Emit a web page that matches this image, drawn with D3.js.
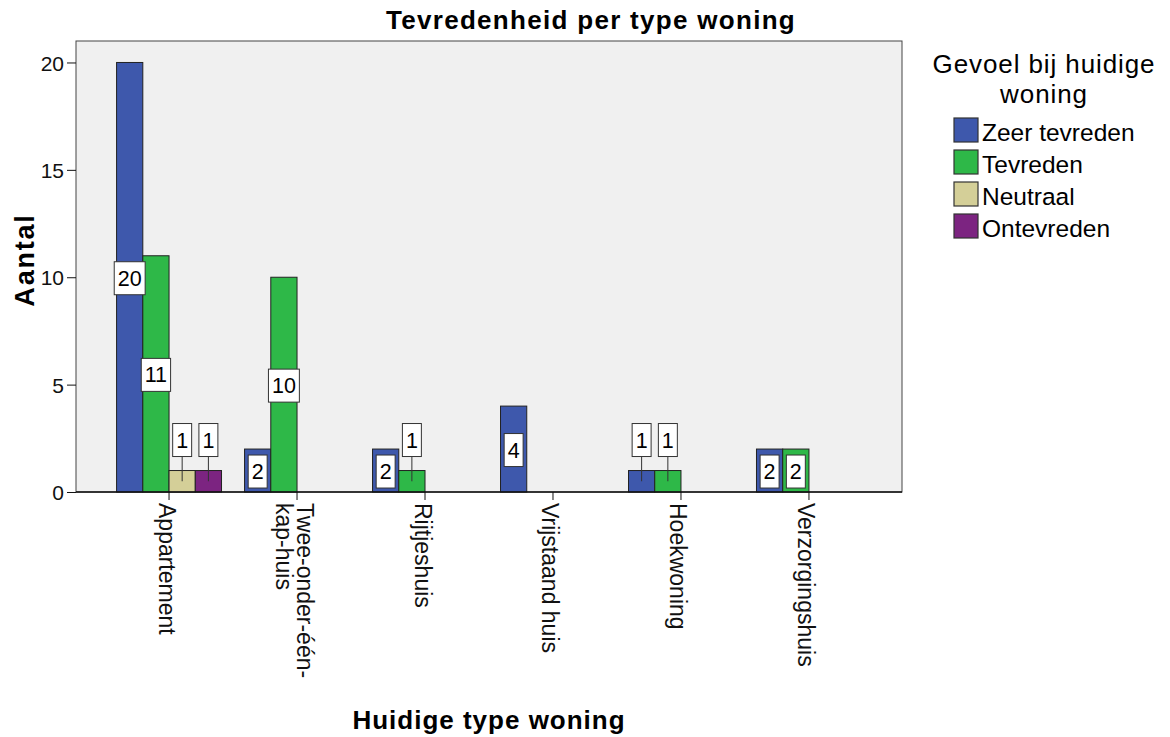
<!DOCTYPE html>
<html>
<head>
<meta charset="utf-8">
<script src="https://cdn.jsdelivr.net/npm/d3@7"></script>
<style>
  html, body { margin: 0; padding: 0; background: #fff; }
  svg { display: block; font-family: 'Liberation Sans', Arial, sans-serif; }
</style>
</head>
<body>
<div id="chart"></div>
<script>
const categories = ['Appartement', 'Twee-onder-één-kap-huis', 'Rijtjeshuis', 'Vrijstaand huis', 'Hoekwoning', 'Verzorgingshuis'];
const seriesNames = ['Zeer tevreden', 'Tevreden', 'Neutraal', 'Ontevreden'];
const zeerTevreden = [20, 2, 2, 4, 1, 2];
const tevreden = [11, 10, 1, 0, 1, 2];
const neutraal = [1, 0, 0, 0, 0, 0];
const ontevreden = [1, 0, 0, 0, 0, 0];
const yTicks = [0, 5, 10, 15, 20];
const COLORS = ['#3e58ac', '#2eb848', '#d4cf98', '#7c2481'];

const width = 1170;
const height = 737;
const plot = {left: 76, right: 902, top: 41, bottom: 492};

// one row per bar
const values = [zeerTevreden, tevreden, neutraal, ontevreden];
const bars = categories.flatMap((c, i) =>
  seriesNames.map((s, j) => ({cat: c, series: s, value: values[j][i], color: COLORS[j]})));

const svg = d3.select('#chart')
  .append('svg')
    .attr('width', width)
    .attr('height', height);

const x0 = d3.scaleBand()
  .domain(categories)
  .range([plot.left, plot.right])
  .paddingInner(0.18)
  .paddingOuter(0.317);
const x1 = d3.scaleBand()
  .domain(seriesNames)
  .range([0, x0.bandwidth()]);
const y = d3.scaleLinear()
  .domain([0, 21])
  .range([plot.bottom, plot.top]);

// plot background
svg.append('rect')
  .attr('x', plot.left)
  .attr('y', plot.top)
  .attr('width', plot.right - plot.left)
  .attr('height', plot.bottom - plot.top)
  .attr('fill', '#f0f0f0')
  .attr('stroke', '#444')
  .attr('stroke-width', 1);

// bars
svg.append('g')
  .selectAll('rect')
  .data(bars)
  .enter().append('rect')
    .attr('x', d => x0(d.cat) + x1(d.series))
    .attr('y', d => y(d.value))
    .attr('width', x1.bandwidth())
    .attr('height', d => y(0) - y(d.value))
    .attr('fill', d => d.color)
    .attr('stroke', '#222')
    .attr('stroke-width', 1);

// baseline
svg.append('line')
  .attr('x1', plot.left).attr('x2', plot.right)
  .attr('y1', y(0)).attr('y2', y(0))
  .attr('stroke', '#111')
  .attr('stroke-width', 1.5);

// value labels
const boxH = 33;
const labels = svg.append('g');
bars.filter(d => d.value > 0).forEach(d => {
  const cx = x0(d.cat) + x1(d.series) + x1.bandwidth() / 2;
  const midY = (y(d.value) + y(0)) / 2;
  const inside = (y(0) - y(d.value)) > boxH + 4;
  const g = labels.append('g');
  const t = g.append('text')
    .attr('font-size', 21.5)
    .attr('text-anchor', 'middle')
    .text(d.value);
  const tw = t.node().getComputedTextLength();
  const boxW = tw + 7;
  const boxY = inside ? midY - boxH / 2 + 1 : y(d.value) - 14 - boxH;
  if (!inside) {
    g.insert('line', 'text')
      .attr('x1', cx).attr('x2', cx)
      .attr('y1', boxY + boxH).attr('y2', midY)
      .attr('stroke', '#333')
      .attr('stroke-width', 1);
  }
  g.insert('rect', 'text')
    .attr('x', cx - boxW / 2)
    .attr('y', boxY)
    .attr('width', boxW)
    .attr('height', boxH)
    .attr('fill', '#fff')
    .attr('stroke', '#333')
    .attr('stroke-width', 1);
  t.attr('x', cx).attr('y', boxY + boxH / 2 + 7.5);
});

// y axis
const yAxis = svg.append('g')
  .attr('transform', `translate(${plot.left},0)`)
  .call(d3.axisLeft(y).tickValues(yTicks).tickSize(9).tickPadding(3));
yAxis.select('.domain').remove();
yAxis.selectAll('.tick line').attr('stroke', '#111');
yAxis.selectAll('.tick text')
  .attr('font-size', 21)
  .attr('font-family', 'Liberation Sans, Arial, sans-serif')
  .attr('fill', '#111')
  .attr('dy', '0.36em');

// x axis
const xAxis = svg.append('g')
  .attr('transform', `translate(0,${plot.bottom})`)
  .call(d3.axisBottom(x0).tickSize(8).tickFormat(''));
xAxis.select('.domain').remove();
xAxis.selectAll('.tick line').attr('stroke', '#111');

// rotated category labels, wrapped after hyphens
const maxLen = 182;
const lineH = 21;
categories.forEach(c => {
  const cx = x0(c) + x0.bandwidth() / 2;
  const g = svg.append('g')
    .attr('transform', `translate(${cx},${plot.bottom + 11}) rotate(90)`);
  const probe = g.append('text').attr('font-size', 23);
  const parts = c.split(/(?<=-)/);
  const lines = [];
  let cur = '';
  parts.forEach(p => {
    probe.text(cur + p);
    if (cur && probe.node().getComputedTextLength() > maxLen) {
      lines.push(cur);
      cur = p;
    } else {
      cur += p;
    }
  });
  lines.push(cur);
  probe.remove();
  lines.forEach((l, i) => {
    const off = -10.5 + ((lines.length - 1) / 2 - i) * lineH;
    g.append('text')
      .attr('font-size', 23)
      .attr('fill', '#111')
      .attr('x', 0)
      .attr('y', -off)
      .text(l);
  });
});

// titles
svg.append('text')
  .attr('x', 591)
  .attr('y', 29)
  .attr('text-anchor', 'middle')
  .attr('font-size', 26)
  .attr('font-weight', 'bold')
  .attr('letter-spacing', 1.3)
  .text('Tevredenheid per type woning');

svg.append('text')
  .attr('x', (plot.left + plot.right) / 2)
  .attr('y', 729)
  .attr('text-anchor', 'middle')
  .attr('font-size', 26)
  .attr('font-weight', 'bold')
  .attr('letter-spacing', 1.0)
  .text('Huidige type woning');

svg.append('text')
  .attr('transform', 'translate(34,260) rotate(-90)')
  .attr('text-anchor', 'middle')
  .attr('font-size', 27)
  .attr('font-weight', 'bold')
  .attr('letter-spacing', 1.8)
  .text('Aantal');

// legend
const legend = svg.append('g');
['Gevoel bij huidige', 'woning'].forEach((l, i) => {
  legend.append('text')
    .attr('x', 1044)
    .attr('y', 73 + i * 30)
    .attr('text-anchor', 'middle')
    .attr('font-size', 26)
    .attr('letter-spacing', 0.9)
    .text(l);
});
seriesNames.forEach((s, i) => {
  const top = 118 + i * 32;
  legend.append('rect')
    .attr('x', 954)
    .attr('y', top)
    .attr('width', 24)
    .attr('height', 24)
    .attr('fill', COLORS[i])
    .attr('stroke', '#333')
    .attr('stroke-width', 1.2);
  legend.append('text')
    .attr('x', 982)
    .attr('y', top + 23)
    .attr('font-size', 24.5)
    .text(s);
});
</script>
</body>
</html>
